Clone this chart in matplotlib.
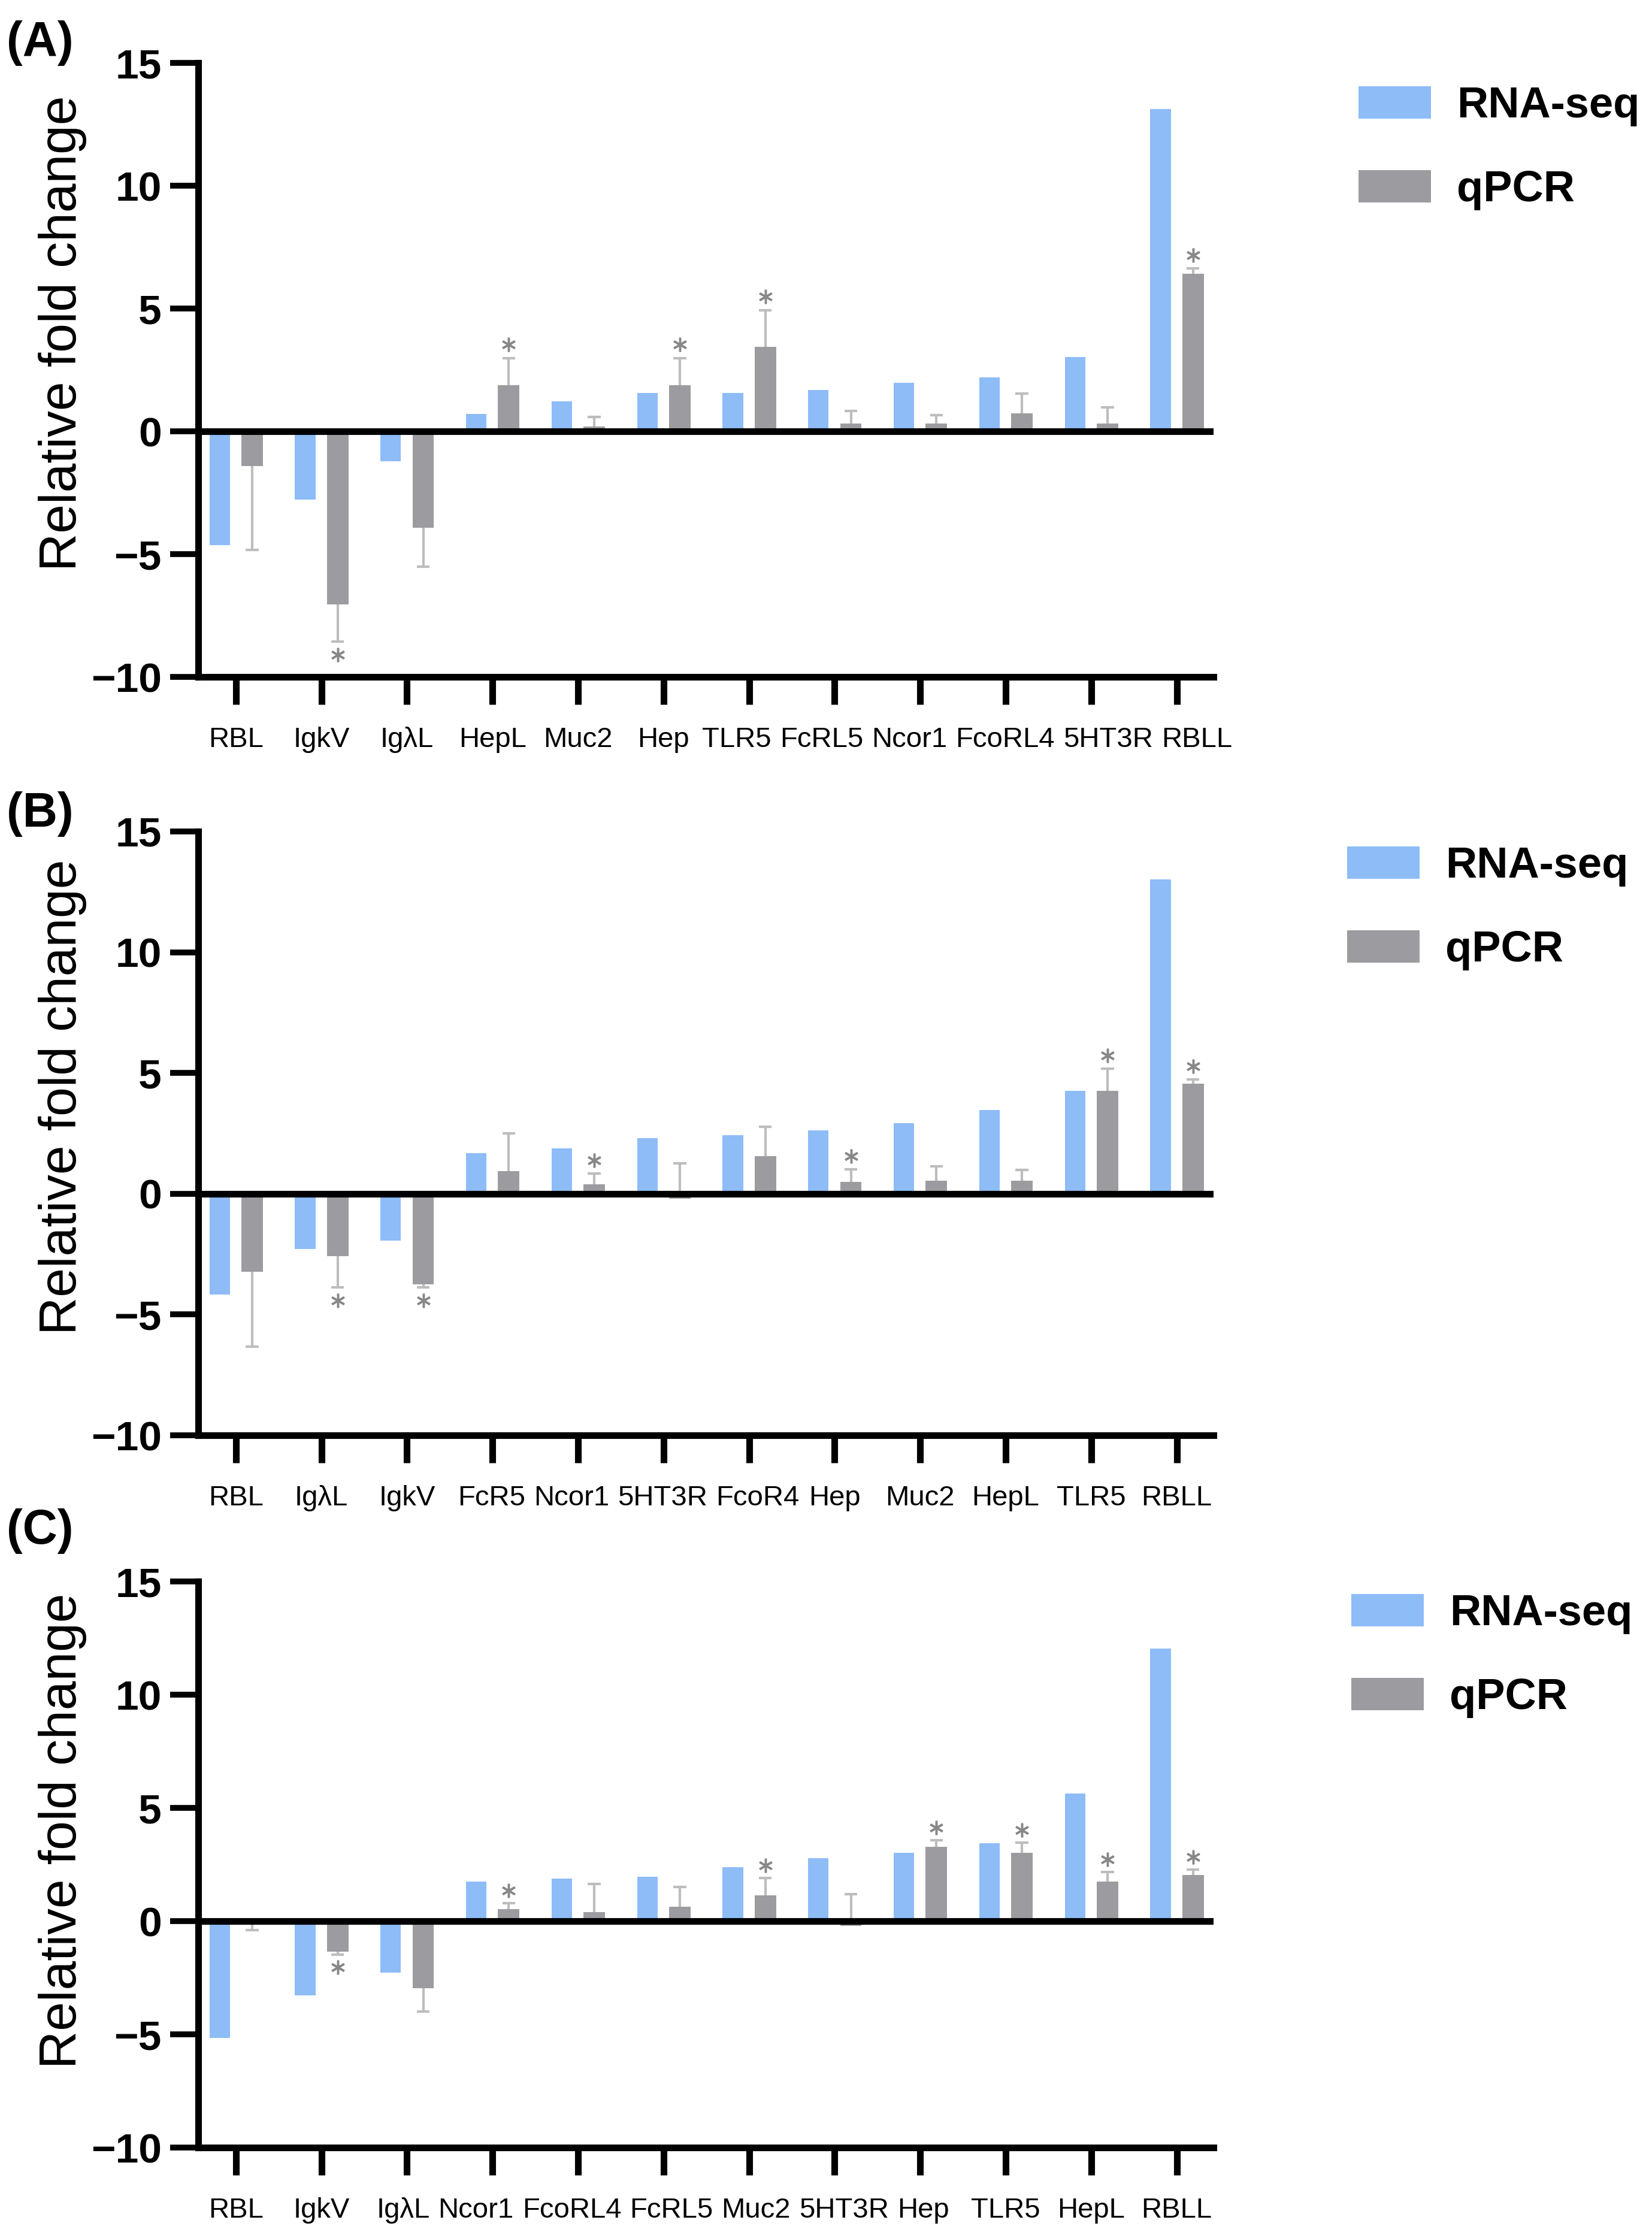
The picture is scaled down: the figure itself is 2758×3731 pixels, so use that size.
import numpy as np
import matplotlib
matplotlib.use('Agg')
import matplotlib.pyplot as plt
from matplotlib import font_manager

# Panel A
cats_a = ['RBL', 'IgkV', 'IgλL', 'HepL', 'Muc2', 'Hep', 'TLR5', 'FcRL5', 'Ncor1', 'FcoRL4', '5HT3R', 'RBLL']
rna_a = [-4.62, -2.78, -1.21, 0.71, 1.23, 1.57, 1.57, 1.69, 1.98, 2.20, 3.02, 13.13]
qpcr_a = [-1.41, -7.04, -3.93, 1.87, 0.20, 1.87, 3.45, 0.32, 0.32, 0.73, 0.32, 6.43]
err_a = [-3.41, -1.51, -1.59, 1.11, 0.40, 1.11, 1.49, 0.51, 0.35, 0.82, 0.67, 0.20]
star_a = ['IgkV', 'HepL', 'Hep', 'TLR5', 'RBLL']

# Panel B
cats_b = ['RBL', 'IgλL', 'IgkV', 'FcR5', 'Ncor1', '5HT3R', 'FcoR4', 'Hep', 'Muc2', 'HepL', 'TLR5', 'RBLL']
rna_b = [-4.17, -2.29, -1.95, 1.67, 1.87, 2.31, 2.43, 2.62, 2.92, 3.46, 4.27, 13.02]
qpcr_b = [-3.22, -2.58, -3.74, 0.93, 0.40, -0.20, 1.55, 0.50, 0.54, 0.54, 4.27, 4.57]
err_b = [-3.10, -1.30, -0.14, 1.56, 0.43, 1.45, 1.23, 0.50, 0.60, 0.45, 0.90, 0.16]
star_b = ['IgλL', 'IgkV', 'Ncor1', 'Hep', 'TLR5', 'RBLL']

# Panel C
cats_c = ['RBL', 'IgkV', 'IgλL', 'Ncor1', 'FcoRL4', 'FcRL5', 'Muc2', '5HT3R', 'Hep', 'TLR5', 'HepL', 'RBLL']
rna_c = [-5.16, -3.27, -2.26, 1.75, 1.87, 1.97, 2.38, 2.78, 3.01, 3.43, 5.63, 12.05]
qpcr_c = [0.10, -1.34, -2.97, 0.53, 0.39, 0.63, 1.14, -0.20, 3.29, 3.01, 1.75, 2.05]
err_c = [-0.50, -0.14, -1.01, 0.26, 1.26, 0.87, 0.77, 1.40, 0.29, 0.47, 0.42, 0.23]
star_c = ['IgkV', 'Ncor1', 'Muc2', 'Hep', 'TLR5', 'HepL', 'RBLL']

BLUE = '#8dbcf7'
GREY = '#9c9ca0'
ERR = '#bdbdbd'
STAR = '#888888'

names = {f.name for f in font_manager.fontManager.ttflist}
if 'Liberation Sans Narrow' in names:
    tick_font, tick_size = 'Liberation Sans Narrow', 44
else:
    tick_font, tick_size = 'Liberation Sans', 34

plt.rcParams['font.family'] = ['Liberation Sans', 'DejaVu Sans']

DPI = 100
fig = plt.figure(figsize=(27.58, 37.31), dpi=DPI)
label_rows = []


def draw_panel(rect, cats, rna, qpcr, err, stars, tag, tag_y, leg_xy):
    ax = fig.add_axes(rect)
    x = np.arange(len(cats))
    qpcr = np.array(qpcr)
    err = np.array(err)
    b1 = ax.bar(x - 0.19, rna, 0.24, color=BLUE, zorder=2, label='RNA-seq')
    b2 = ax.bar(x + 0.19, qpcr, 0.25, color=GREY, zorder=2, label='qPCR')
    # one-sided error bars, cap only at the far end
    ends = qpcr + err
    ax.vlines(x + 0.19, qpcr, ends, color=ERR, lw=3, zorder=1)
    ax.hlines(ends, x + 0.19 - 0.075, x + 0.19 + 0.075, color=ERR, lw=3, zorder=1)
    for c in stars:
        i = cats.index(c)
        ax.plot(x[i] + 0.19, ends[i] + 0.55 * np.sign(err[i]), marker=(6, 2, 0),
                ms=17, mew=2.5, color=STAR, zorder=4)
    ax.axhline(0, color='black', lw=8, zorder=3)

    ax.set_xlim(-0.44, 11.43)
    ax.set_ylim(-10, 15)
    ax.set_yticks([-10, -5, 0, 5, 10, 15])
    ax.set_xticks(x)
    ax.set_xticklabels([])
    for t in ax.get_yticklabels():
        t.set_fontsize(50)
        t.set_fontweight('bold')
    ax.tick_params(axis='y', length=34, width=7, pad=10)
    ax.tick_params(axis='x', length=33, width=8)
    for s in ['top', 'right']:
        ax.spines[s].set_visible(False)
    for s in ['left', 'bottom']:
        ax.spines[s].set_linewidth(8)
    ax.set_ylabel('Relative fold change', fontsize=63)
    ax.yaxis.set_label_coords(-0.11, 0.56)

    # category names as a row under the ticks (nudged apart later)
    row = []
    for xi, c in zip(x, cats):
        t = ax.annotate(c, (xi, 0), xycoords=ax.get_xaxis_transform(),
                        xytext=(0, -60), textcoords='offset points',
                        ha='center', va='top', fontfamily=tick_font,
                        fontsize=tick_size)
        row.append(t)
    label_rows.append(row)

    fig.text(0.004, tag_y, tag, fontsize=58, fontweight='bold', va='top', ha='left')
    ax.legend(handles=[b1, b2], loc='upper left', bbox_to_anchor=leg_xy,
              bbox_transform=fig.transFigure, frameon=False,
              prop={'size': 52, 'weight': 'bold'}, handlelength=1.67,
              handleheight=0.78, handletextpad=0.6, labelspacing=1.0,
              borderpad=0, borderaxespad=0)
    return ax


draw_panel([0.120, 0.6971, 0.6146, 0.2747], cats_a, rna_a, qpcr_a, err_a, star_a,
           '(A)', 0.991, (2268 / 2758, 1 - 143 / 3731))
draw_panel([0.120, 0.3578, 0.6146, 0.2702], cats_b, rna_b, qpcr_b, err_b, star_b,
           '(B)', 0.646, (2249 / 2758, 1 - 1412 / 3731))
draw_panel([0.120, 0.0391, 0.6146, 0.2533], cats_c, rna_c, qpcr_c, err_c, star_c,
           '(C)', 0.3252, (2256 / 2758, 1 - 2660 / 3731))

# push touching labels apart so every name keeps a small gap
fig.canvas.draw()
renderer = fig.canvas.get_renderer()
min_gap = 14
for row in label_rows:
    boxes = [t.get_window_extent(renderer) for t in row]
    c0 = np.array([(b.x0 + b.x1) / 2 for b in boxes])
    w = np.array([b.width for b in boxes])
    c = c0.copy()
    for _ in range(200):
        for i in range(len(c) - 1):
            gap = (c[i + 1] - w[i + 1] / 2) - (c[i] + w[i] / 2)
            if gap < min_gap:
                d = (min_gap - gap) / 2
                c[i] -= d
                c[i + 1] += d
    for t, dx in zip(row, c - c0):
        t.xyann = (dx * 72 / DPI, -60)

fig.savefig('out.png', dpi=DPI)
